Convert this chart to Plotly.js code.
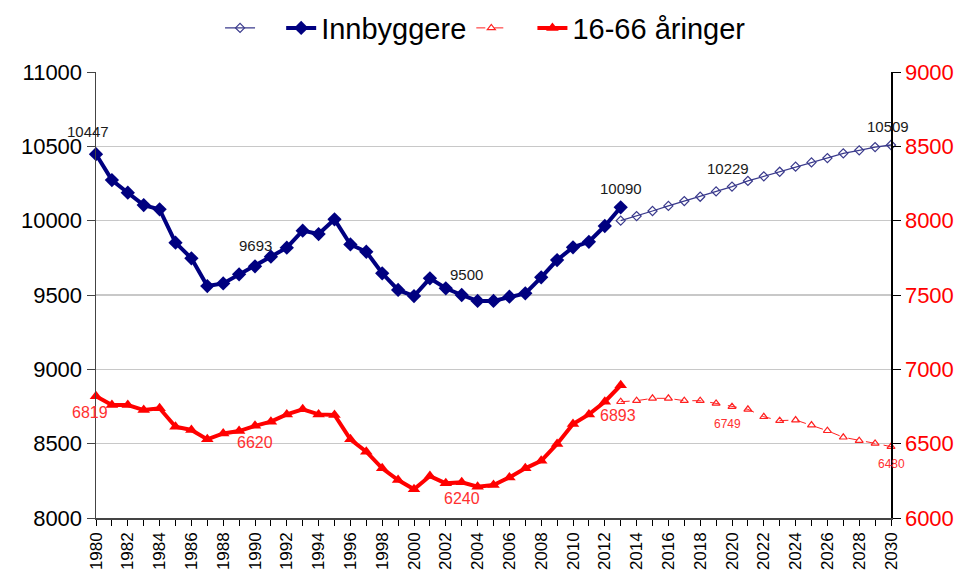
<!DOCTYPE html>
<html><head><meta charset="utf-8">
<script src="https://cdn.plot.ly/plotly-3.0.1.min.js"></script>
<style>html,body{margin:0;padding:0;background:#fff}#chart{width:966px;height:572px}</style>
</head><body><div id="chart"></div>
<script>
const histYears = [1980,1981,1982,1983,1984,1985,1986,1987,1988,1989,1990,1991,1992,1993,1994,1995,1996,1997,1998,1999,2000,2001,2002,2003,2004,2005,2006,2007,2008,2009,2010,2011,2012,2013];
const innbyggere = [10447,10273,10188,10105,10076,9852,9747,9560,9578,9639,9693,9758,9818,9933,9910,10009,9840,9791,9646,9534,9493,9612,9545,9500,9460,9460,9489,9511,9619,9735,9821,9858,9964,10090];
const aringer = [6819,6760,6760,6726,6738,6614,6592,6529,6569,6585,6620,6648,6697,6731,6697,6693,6529,6446,6334,6255,6193,6282,6233,6240,6210,6222,6273,6334,6385,6498,6632,6697,6782,6893];
const projYears = [2013,2014,2015,2016,2017,2018,2019,2020,2021,2022,2023,2024,2025,2026,2027,2028,2029,2030];
const innbyggereProj = [10000,10031,10065,10099,10132,10161,10197,10229,10267,10298,10329,10363,10392,10421,10453,10473,10495,10509];
const aringerProj = [6782,6789,6805,6805,6789,6789,6771,6749,6731,6681,6655,6659,6625,6587,6543,6520,6502,6480];
const seriesNames = ["Innbyggere", "16-66 åringer"];
const histLabelYears = [1980, 1990, 2003, 2013];
const projLabelYears = [2020, 2030];

const F = "Liberation Sans, Arial, sans-serif";
const BLANK = "\u00a0\u00a0";
const traces = [
  {x: projYears, y: innbyggereProj, name: BLANK, mode: "lines+markers", yaxis: "y",
   line: {color: "#3a3a8c", width: 1.3}, marker: {symbol: "diamond-open", size: 7, color: "#3a3a8c", line: {width: 1.2}},
   cliponaxis: false},
  {x: histYears, y: innbyggere, name: seriesNames[0], mode: "lines+markers", yaxis: "y",
   line: {color: "#000080", width: 4}, marker: {symbol: "diamond", size: 11, color: "#000080"},
   cliponaxis: false},
  {x: projYears, y: aringerProj, name: BLANK, mode: "lines+markers", yaxis: "y2",
   line: {color: "#ff2020", width: 1, dash: "dash"}, marker: {symbol: "triangle-up-open", size: 7, color: "#ff2020", line: {width: 1.2}},
   cliponaxis: false},
  {x: histYears, y: aringer, name: seriesNames[1], mode: "lines+markers", yaxis: "y2",
   line: {color: "#ff0000", width: 4}, marker: {symbol: "triangle-up", size: 11, color: "#ff0000"},
   cliponaxis: false}
];

const annotations = [];
const hs = {1980: -8, 1990: 0, 2003: 5, 2013: 0};
histLabelYears.forEach(yr => {
  const i = histYears.indexOf(yr);
  annotations.push({x: yr, y: innbyggere[i], xref: "x", yref: "y", text: String(innbyggere[i]),
    showarrow: false, yanchor: "bottom", yshift: yr===1980?12:(yr===2013?8:10), xshift: hs[yr],
    font: {family: F, size: 15, color: "#1a1a1a"}});
  annotations.push({x: yr, y: aringer[i], xref: "x", yref: "y2", text: String(aringer[i]),
    showarrow: false, yanchor: "top", yshift: yr===2013?-20:-6, xshift: yr===1980?-6:(yr===2013?-3:0),
    font: {family: F, size: 16, color: "#ff3030"}});
});
projLabelYears.forEach(yr => {
  const i = projYears.indexOf(yr);
  annotations.push({x: yr, y: innbyggereProj[i], xref: "x", yref: "y", text: String(innbyggereProj[i]),
    showarrow: false, yanchor: "bottom", yshift: 8, xshift: yr===2030?-3:-4,
    font: {family: F, size: 15, color: "#1a1a1a"}});
  annotations.push({x: yr, y: aringerProj[i], xref: "x", yref: "y2", text: String(aringerProj[i]),
    showarrow: false, yanchor: "top", yshift: -8, xshift: yr===2030?0:-5,
    font: {family: F, size: 12, color: "#ff3030"}});
});

const layout = {
  width: 966, height: 572,
  margin: {l: 96, r: 75, t: 72, b: 54},
  paper_bgcolor: "#fff", plot_bgcolor: "#fff",
  font: {family: F, color: "#000"},
  showlegend: true,
  legend: {orientation: "h", x: 0.49, xanchor: "center", y: 0.951, yanchor: "middle", yref: "container",
    font: {family: F, size: 29, color: "#000"}, itemwidth: 30, traceorder: "normal"},
  xaxis: {range: [1980, 2030], tickmode: "linear", tick0: 1980, dtick: 2, tickangle: -90,
    ticks: "outside", ticklen: 6, tickcolor: "#000", showline: true, linecolor: "#444", linewidth: 1.5,
    showgrid: false, zeroline: false, tickfont: {family: F, size: 17, color: "#000"},
    minor: {dtick: 1, ticks: "outside", ticklen: 6, tickcolor: "#000", showgrid: false}},
  yaxis: {range: [8000, 11000], dtick: 500, tickmode: "linear", tickformat: "d", ticks: "outside", ticklen: 8, tickcolor: "#444",
    showline: true, linecolor: "#444", linewidth: 1.5, showgrid: true, gridcolor: "#c8c8c8", gridwidth: 1.2,
    zeroline: false, tickfont: {family: F, size: 22, color: "#000"}},
  yaxis2: {range: [6000, 9000], dtick: 500, tickmode: "linear", tickformat: "d", overlaying: "y", side: "right",
    ticks: "outside", ticklen: 8, tickcolor: "#000", showline: true, linecolor: "#000", linewidth: 1.5,
    showgrid: false, zeroline: false, tickfont: {family: F, size: 22, color: "#ff0000"}},
  annotations: annotations
};
Plotly.newPlot("chart", traces, layout, {staticPlot: true});
</script></body></html>
